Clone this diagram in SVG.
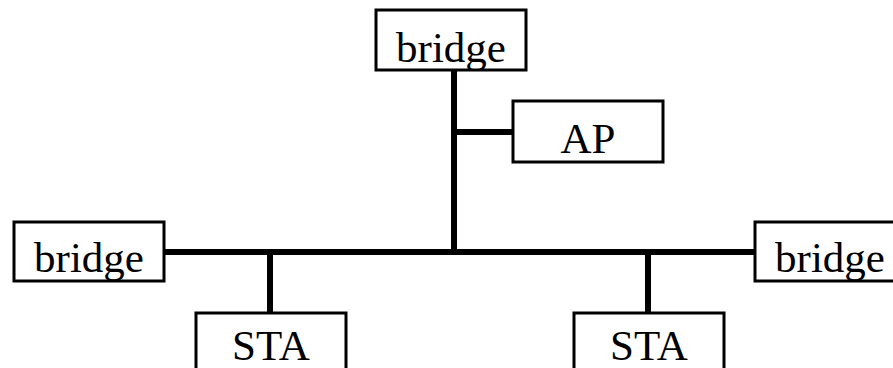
<svg xmlns="http://www.w3.org/2000/svg" width="893" height="368" viewBox="0 0 893 368">
  <style>
    .box { fill: #ffffff; stroke: #000000; stroke-width: 3; }
    .lbl { font-family: "Liberation Serif", "Times New Roman", serif; font-size: 43px; fill: #000000; text-anchor: middle; }
    .wire { stroke: #000000; stroke-width: 6; fill: none; }
  </style>
  <rect width="893" height="368" fill="#ffffff"/>

  <!-- wiring: trunk, bus and drops -->
  <g id="connectors">
    <line class="wire" x1="454" y1="70" x2="454" y2="255"/>
    <line class="wire" x1="454" y1="132" x2="513" y2="132"/>
    <line class="wire" x1="165" y1="252" x2="754" y2="252"/>
    <line class="wire" x1="270" y1="252" x2="270" y2="313"/>
    <line class="wire" x1="648" y1="252" x2="648" y2="313"/>
  </g>

  <g id="bridge-top">
    <rect class="box" x="376" y="10" width="150" height="60"/>
    <text class="lbl" x="451" y="62">bridge</text>
  </g>

  <g id="ap">
    <rect class="box" x="513" y="101" width="150" height="61"/>
    <text class="lbl" x="588" y="153">AP</text>
  </g>

  <g id="bridge-left">
    <rect class="box" x="14" y="222" width="150" height="59"/>
    <text class="lbl" x="89" y="272">bridge</text>
  </g>

  <g id="bridge-right">
    <rect class="box" x="755" y="222" width="150" height="59"/>
    <text class="lbl" x="830" y="272">bridge</text>
  </g>

  <g id="sta-left">
    <rect class="box" x="196" y="313" width="150" height="70"/>
    <text class="lbl" x="271" y="360">STA</text>
  </g>

  <g id="sta-right">
    <rect class="box" x="574" y="313" width="150" height="70"/>
    <text class="lbl" x="649" y="360">STA</text>
  </g>
</svg>
